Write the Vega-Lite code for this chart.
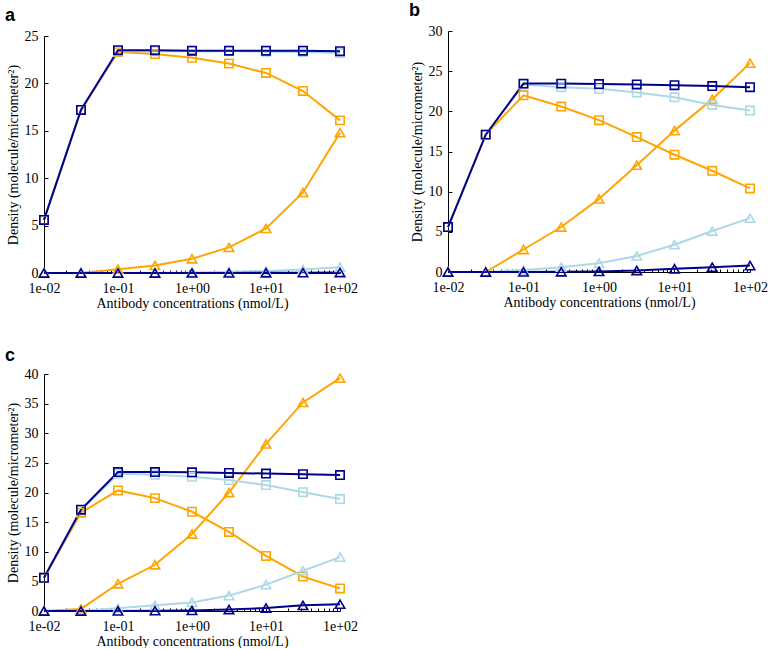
{
  "$schema": "https://vega.github.io/schema/vega-lite/v6.json",
  "background": "white",
  "padding": {"left": 5, "top": 2, "right": 5, "bottom": 0},
  "config": {
    "view": {"stroke": null},
    "axis": {
      "grid": false,
      "labelFont": "Liberation Serif",
      "labelFontSize": 14,
      "labelColor": "black",
      "titleFont": "Liberation Serif",
      "titleFontSize": 14,
      "titleFontWeight": "normal",
      "titleColor": "black",
      "domainColor": "black",
      "tickColor": "black",
      "domainWidth": 1,
      "tickWidth": 1
    },
    "title": {
      "font": "Liberation Sans",
      "fontSize": 18,
      "fontWeight": "bold",
      "color": "black",
      "anchor": "start",
      "frame": "group",
      "baseline": "alphabetic",
      "dx": -39
    }
  },
  "datasets": {
    "d": [
      {"panel": "a", "grp": "G1", "kind": "K1", "conc": 0.01, "y": 5.6},
      {"panel": "a", "grp": "G1", "kind": "K1", "conc": 0.0316, "y": 17.2},
      {"panel": "a", "grp": "G1", "kind": "K1", "conc": 0.1, "y": 23.3},
      {"panel": "a", "grp": "G1", "kind": "K1", "conc": 0.316, "y": 23.1},
      {"panel": "a", "grp": "G1", "kind": "K1", "conc": 1, "y": 22.7},
      {"panel": "a", "grp": "G1", "kind": "K1", "conc": 3.16, "y": 22.1},
      {"panel": "a", "grp": "G1", "kind": "K1", "conc": 10, "y": 21.1},
      {"panel": "a", "grp": "G1", "kind": "K1", "conc": 31.6, "y": 19.2},
      {"panel": "a", "grp": "G1", "kind": "K1", "conc": 100, "y": 16.1},
      {"panel": "a", "grp": "G1", "kind": "K2", "conc": 0.01, "y": 0},
      {"panel": "a", "grp": "G1", "kind": "K2", "conc": 0.0316, "y": 0},
      {"panel": "a", "grp": "G1", "kind": "K2", "conc": 0.1, "y": 0.4},
      {"panel": "a", "grp": "G1", "kind": "K2", "conc": 0.316, "y": 0.8},
      {"panel": "a", "grp": "G1", "kind": "K2", "conc": 1, "y": 1.5},
      {"panel": "a", "grp": "G1", "kind": "K2", "conc": 3.16, "y": 2.7},
      {"panel": "a", "grp": "G1", "kind": "K2", "conc": 10, "y": 4.7},
      {"panel": "a", "grp": "G1", "kind": "K2", "conc": 31.6, "y": 8.5},
      {"panel": "a", "grp": "G1", "kind": "K2", "conc": 100, "y": 14.8},
      {"panel": "a", "grp": "G2", "kind": "K1", "conc": 0.01, "y": 5.6},
      {"panel": "a", "grp": "G2", "kind": "K1", "conc": 0.0316, "y": 17.2},
      {"panel": "a", "grp": "G2", "kind": "K1", "conc": 0.1, "y": 23.4},
      {"panel": "a", "grp": "G2", "kind": "K1", "conc": 0.316, "y": 23.4},
      {"panel": "a", "grp": "G2", "kind": "K1", "conc": 1, "y": 23.4},
      {"panel": "a", "grp": "G2", "kind": "K1", "conc": 3.16, "y": 23.4},
      {"panel": "a", "grp": "G2", "kind": "K1", "conc": 10, "y": 23.35},
      {"panel": "a", "grp": "G2", "kind": "K1", "conc": 31.6, "y": 23.3},
      {"panel": "a", "grp": "G2", "kind": "K1", "conc": 100, "y": 23.2},
      {"panel": "a", "grp": "G2", "kind": "K2", "conc": 0.01, "y": 0},
      {"panel": "a", "grp": "G2", "kind": "K2", "conc": 0.0316, "y": 0},
      {"panel": "a", "grp": "G2", "kind": "K2", "conc": 0.1, "y": 0.01},
      {"panel": "a", "grp": "G2", "kind": "K2", "conc": 0.316, "y": 0.03},
      {"panel": "a", "grp": "G2", "kind": "K2", "conc": 1, "y": 0.06},
      {"panel": "a", "grp": "G2", "kind": "K2", "conc": 3.16, "y": 0.12},
      {"panel": "a", "grp": "G2", "kind": "K2", "conc": 10, "y": 0.22},
      {"panel": "a", "grp": "G2", "kind": "K2", "conc": 31.6, "y": 0.38},
      {"panel": "a", "grp": "G2", "kind": "K2", "conc": 100, "y": 0.6},
      {"panel": "a", "grp": "G3", "kind": "K1", "conc": 0.01, "y": 5.6},
      {"panel": "a", "grp": "G3", "kind": "K1", "conc": 0.0316, "y": 17.2},
      {"panel": "a", "grp": "G3", "kind": "K1", "conc": 0.1, "y": 23.5},
      {"panel": "a", "grp": "G3", "kind": "K1", "conc": 0.316, "y": 23.5},
      {"panel": "a", "grp": "G3", "kind": "K1", "conc": 1, "y": 23.45},
      {"panel": "a", "grp": "G3", "kind": "K1", "conc": 3.16, "y": 23.45},
      {"panel": "a", "grp": "G3", "kind": "K1", "conc": 10, "y": 23.45},
      {"panel": "a", "grp": "G3", "kind": "K1", "conc": 31.6, "y": 23.45},
      {"panel": "a", "grp": "G3", "kind": "K1", "conc": 100, "y": 23.4},
      {"panel": "a", "grp": "G3", "kind": "K2", "conc": 0.01, "y": 0},
      {"panel": "a", "grp": "G3", "kind": "K2", "conc": 0.0316, "y": 0},
      {"panel": "a", "grp": "G3", "kind": "K2", "conc": 0.1, "y": 0},
      {"panel": "a", "grp": "G3", "kind": "K2", "conc": 0.316, "y": 0},
      {"panel": "a", "grp": "G3", "kind": "K2", "conc": 1, "y": 0.005},
      {"panel": "a", "grp": "G3", "kind": "K2", "conc": 3.16, "y": 0.01},
      {"panel": "a", "grp": "G3", "kind": "K2", "conc": 10, "y": 0.02},
      {"panel": "a", "grp": "G3", "kind": "K2", "conc": 31.6, "y": 0.03},
      {"panel": "a", "grp": "G3", "kind": "K2", "conc": 100, "y": 0.05},

      {"panel": "b", "grp": "G1", "kind": "K1", "conc": 0.01, "y": 5.6},
      {"panel": "b", "grp": "G1", "kind": "K1", "conc": 0.0316, "y": 17.1},
      {"panel": "b", "grp": "G1", "kind": "K1", "conc": 0.1, "y": 22.0},
      {"panel": "b", "grp": "G1", "kind": "K1", "conc": 0.316, "y": 20.6},
      {"panel": "b", "grp": "G1", "kind": "K1", "conc": 1, "y": 18.9},
      {"panel": "b", "grp": "G1", "kind": "K1", "conc": 3.16, "y": 16.8},
      {"panel": "b", "grp": "G1", "kind": "K1", "conc": 10, "y": 14.6},
      {"panel": "b", "grp": "G1", "kind": "K1", "conc": 31.6, "y": 12.6},
      {"panel": "b", "grp": "G1", "kind": "K1", "conc": 100, "y": 10.4},
      {"panel": "b", "grp": "G1", "kind": "K2", "conc": 0.01, "y": 0},
      {"panel": "b", "grp": "G1", "kind": "K2", "conc": 0.0316, "y": 0},
      {"panel": "b", "grp": "G1", "kind": "K2", "conc": 0.1, "y": 2.8},
      {"panel": "b", "grp": "G1", "kind": "K2", "conc": 0.316, "y": 5.6},
      {"panel": "b", "grp": "G1", "kind": "K2", "conc": 1, "y": 9.1},
      {"panel": "b", "grp": "G1", "kind": "K2", "conc": 3.16, "y": 13.3},
      {"panel": "b", "grp": "G1", "kind": "K2", "conc": 10, "y": 17.6},
      {"panel": "b", "grp": "G1", "kind": "K2", "conc": 31.6, "y": 21.5},
      {"panel": "b", "grp": "G1", "kind": "K2", "conc": 100, "y": 26.0},
      {"panel": "b", "grp": "G2", "kind": "K1", "conc": 0.01, "y": 5.6},
      {"panel": "b", "grp": "G2", "kind": "K1", "conc": 0.0316, "y": 17.1},
      {"panel": "b", "grp": "G2", "kind": "K1", "conc": 0.1, "y": 23.35},
      {"panel": "b", "grp": "G2", "kind": "K1", "conc": 0.316, "y": 23.0},
      {"panel": "b", "grp": "G2", "kind": "K1", "conc": 1, "y": 22.8},
      {"panel": "b", "grp": "G2", "kind": "K1", "conc": 3.16, "y": 22.35},
      {"panel": "b", "grp": "G2", "kind": "K1", "conc": 10, "y": 21.75},
      {"panel": "b", "grp": "G2", "kind": "K1", "conc": 31.6, "y": 20.8},
      {"panel": "b", "grp": "G2", "kind": "K1", "conc": 100, "y": 20.1},
      {"panel": "b", "grp": "G2", "kind": "K2", "conc": 0.01, "y": 0},
      {"panel": "b", "grp": "G2", "kind": "K2", "conc": 0.0316, "y": 0},
      {"panel": "b", "grp": "G2", "kind": "K2", "conc": 0.1, "y": 0.25},
      {"panel": "b", "grp": "G2", "kind": "K2", "conc": 0.316, "y": 0.6},
      {"panel": "b", "grp": "G2", "kind": "K2", "conc": 1, "y": 1.1},
      {"panel": "b", "grp": "G2", "kind": "K2", "conc": 3.16, "y": 2.0},
      {"panel": "b", "grp": "G2", "kind": "K2", "conc": 10, "y": 3.4},
      {"panel": "b", "grp": "G2", "kind": "K2", "conc": 31.6, "y": 5.1},
      {"panel": "b", "grp": "G2", "kind": "K2", "conc": 100, "y": 6.7},
      {"panel": "b", "grp": "G3", "kind": "K1", "conc": 0.01, "y": 5.6},
      {"panel": "b", "grp": "G3", "kind": "K1", "conc": 0.0316, "y": 17.1},
      {"panel": "b", "grp": "G3", "kind": "K1", "conc": 0.1, "y": 23.45},
      {"panel": "b", "grp": "G3", "kind": "K1", "conc": 0.316, "y": 23.45},
      {"panel": "b", "grp": "G3", "kind": "K1", "conc": 1, "y": 23.4},
      {"panel": "b", "grp": "G3", "kind": "K1", "conc": 3.16, "y": 23.35},
      {"panel": "b", "grp": "G3", "kind": "K1", "conc": 10, "y": 23.25},
      {"panel": "b", "grp": "G3", "kind": "K1", "conc": 31.6, "y": 23.15},
      {"panel": "b", "grp": "G3", "kind": "K1", "conc": 100, "y": 23.0},
      {"panel": "b", "grp": "G3", "kind": "K2", "conc": 0.01, "y": 0},
      {"panel": "b", "grp": "G3", "kind": "K2", "conc": 0.0316, "y": 0},
      {"panel": "b", "grp": "G3", "kind": "K2", "conc": 0.1, "y": 0.01},
      {"panel": "b", "grp": "G3", "kind": "K2", "conc": 0.316, "y": 0.03},
      {"panel": "b", "grp": "G3", "kind": "K2", "conc": 1, "y": 0.07},
      {"panel": "b", "grp": "G3", "kind": "K2", "conc": 3.16, "y": 0.18},
      {"panel": "b", "grp": "G3", "kind": "K2", "conc": 10, "y": 0.4},
      {"panel": "b", "grp": "G3", "kind": "K2", "conc": 31.6, "y": 0.6},
      {"panel": "b", "grp": "G3", "kind": "K2", "conc": 100, "y": 0.8},

      {"panel": "c", "grp": "G1", "kind": "K1", "conc": 0.01, "y": 5.6},
      {"panel": "c", "grp": "G1", "kind": "K1", "conc": 0.0316, "y": 16.6},
      {"panel": "c", "grp": "G1", "kind": "K1", "conc": 0.1, "y": 20.35},
      {"panel": "c", "grp": "G1", "kind": "K1", "conc": 0.316, "y": 19.05},
      {"panel": "c", "grp": "G1", "kind": "K1", "conc": 1, "y": 16.75},
      {"panel": "c", "grp": "G1", "kind": "K1", "conc": 3.16, "y": 13.35},
      {"panel": "c", "grp": "G1", "kind": "K1", "conc": 10, "y": 9.3},
      {"panel": "c", "grp": "G1", "kind": "K1", "conc": 31.6, "y": 5.8},
      {"panel": "c", "grp": "G1", "kind": "K1", "conc": 100, "y": 3.8},
      {"panel": "c", "grp": "G1", "kind": "K2", "conc": 0.01, "y": 0},
      {"panel": "c", "grp": "G1", "kind": "K2", "conc": 0.0316, "y": 0.35},
      {"panel": "c", "grp": "G1", "kind": "K2", "conc": 0.1, "y": 4.6},
      {"panel": "c", "grp": "G1", "kind": "K2", "conc": 0.316, "y": 7.8},
      {"panel": "c", "grp": "G1", "kind": "K2", "conc": 1, "y": 13.0},
      {"panel": "c", "grp": "G1", "kind": "K2", "conc": 3.16, "y": 20.0},
      {"panel": "c", "grp": "G1", "kind": "K2", "conc": 10, "y": 28.2},
      {"panel": "c", "grp": "G1", "kind": "K2", "conc": 31.6, "y": 35.2},
      {"panel": "c", "grp": "G1", "kind": "K2", "conc": 100, "y": 39.3},
      {"panel": "c", "grp": "G2", "kind": "K1", "conc": 0.01, "y": 5.6},
      {"panel": "c", "grp": "G2", "kind": "K1", "conc": 0.0316, "y": 17.0},
      {"panel": "c", "grp": "G2", "kind": "K1", "conc": 0.1, "y": 23.15},
      {"panel": "c", "grp": "G2", "kind": "K1", "conc": 0.316, "y": 23.0},
      {"panel": "c", "grp": "G2", "kind": "K1", "conc": 1, "y": 22.65},
      {"panel": "c", "grp": "G2", "kind": "K1", "conc": 3.16, "y": 22.1},
      {"panel": "c", "grp": "G2", "kind": "K1", "conc": 10, "y": 21.25},
      {"panel": "c", "grp": "G2", "kind": "K1", "conc": 31.6, "y": 20.05},
      {"panel": "c", "grp": "G2", "kind": "K1", "conc": 100, "y": 18.9},
      {"panel": "c", "grp": "G2", "kind": "K2", "conc": 0.01, "y": 0},
      {"panel": "c", "grp": "G2", "kind": "K2", "conc": 0.0316, "y": 0.05},
      {"panel": "c", "grp": "G2", "kind": "K2", "conc": 0.1, "y": 0.45},
      {"panel": "c", "grp": "G2", "kind": "K2", "conc": 0.316, "y": 0.95},
      {"panel": "c", "grp": "G2", "kind": "K2", "conc": 1, "y": 1.45},
      {"panel": "c", "grp": "G2", "kind": "K2", "conc": 3.16, "y": 2.6},
      {"panel": "c", "grp": "G2", "kind": "K2", "conc": 10, "y": 4.45},
      {"panel": "c", "grp": "G2", "kind": "K2", "conc": 31.6, "y": 6.8},
      {"panel": "c", "grp": "G2", "kind": "K2", "conc": 100, "y": 9.1},
      {"panel": "c", "grp": "G3", "kind": "K1", "conc": 0.01, "y": 5.6},
      {"panel": "c", "grp": "G3", "kind": "K1", "conc": 0.0316, "y": 17.1},
      {"panel": "c", "grp": "G3", "kind": "K1", "conc": 0.1, "y": 23.45},
      {"panel": "c", "grp": "G3", "kind": "K1", "conc": 0.316, "y": 23.45},
      {"panel": "c", "grp": "G3", "kind": "K1", "conc": 1, "y": 23.4},
      {"panel": "c", "grp": "G3", "kind": "K1", "conc": 3.16, "y": 23.3},
      {"panel": "c", "grp": "G3", "kind": "K1", "conc": 10, "y": 23.2},
      {"panel": "c", "grp": "G3", "kind": "K1", "conc": 31.6, "y": 23.1},
      {"panel": "c", "grp": "G3", "kind": "K1", "conc": 100, "y": 22.95},
      {"panel": "c", "grp": "G3", "kind": "K2", "conc": 0.01, "y": 0},
      {"panel": "c", "grp": "G3", "kind": "K2", "conc": 0.0316, "y": 0},
      {"panel": "c", "grp": "G3", "kind": "K2", "conc": 0.1, "y": 0.02},
      {"panel": "c", "grp": "G3", "kind": "K2", "conc": 0.316, "y": 0.05},
      {"panel": "c", "grp": "G3", "kind": "K2", "conc": 1, "y": 0.1},
      {"panel": "c", "grp": "G3", "kind": "K2", "conc": 3.16, "y": 0.25},
      {"panel": "c", "grp": "G3", "kind": "K2", "conc": 10, "y": 0.5},
      {"panel": "c", "grp": "G3", "kind": "K2", "conc": 31.6, "y": 0.95},
      {"panel": "c", "grp": "G3", "kind": "K2", "conc": 100, "y": 1.15}
    ]
  },
  "vconcat": [
    {
      "hconcat": [
        {
          "title": {"text": "a", "offset": 4},
          "width": 296,
          "height": 242,
          "data": {"name": "d"},
          "transform": [{"filter": "datum.panel === 'a'"}],
          "encoding": {
            "x": {
              "field": "conc", "type": "quantitative",
              "scale": {"type": "log", "domain": [0.01, 100], "nice": false},
              "axis": {
                "title": "Antibody concentrations (nmol/L)",
                "values": [0.01,0.02,0.03,0.04,0.05,0.06,0.07,0.08,0.09,0.1,0.2,0.3,0.4,0.5,0.6,0.7,0.8,0.9,1,2,3,4,5,6,7,8,9,10,20,30,40,50,60,70,80,90,100],
                "labelExpr": "datum.value == 0.01 ? '1e-02' : datum.value == 0.1 ? '1e-01' : datum.value == 1 ? '1e+00' : datum.value == 10 ? '1e+01' : datum.value == 100 ? '1e+02' : ''",
                "labelOverlap": false,
                "labelFlush": false,
                "tickSize": -3,
                "labelPadding": 11,
                "titlePadding": 1
              }
            },
            "y": {
              "field": "y", "type": "quantitative",
              "scale": {"domain": [0, 25], "range": [242, 5], "nice": false, "zero": false},
              "axis": {
                "title": "Density (molecule/micrometer²)",
                "values": [0, 5, 10, 15, 20, 25],
                "tickSize": -4,
                "labelPadding": 10,
                "titlePadding": 4
              }
            },
            "color": {
              "field": "grp", "type": "nominal",
              "scale": {"domain": ["G1", "G2", "G3"], "range": ["#FFA500", "#ADD8E6", "#00008B"]},
              "legend": null
            },
            "detail": {"field": "kind"}
          },
          "layer": [
            {"mark": {"type": "line", "strokeWidth": 2}},
            {
              "mark": {"type": "point", "filled": false, "strokeWidth": 1.6, "opacity": 1},
              "encoding": {
                "shape": {"field": "kind", "type": "nominal", "scale": {"domain": ["K1", "K2"], "range": ["square", "triangle-up"]}, "legend": null},
                "size": {"field": "kind", "type": "nominal", "scale": {"domain": ["K1", "K2"], "range": [70, 90]}, "legend": null}
              }
            }
          ]
        },
        {
          "title": {"text": "b", "offset": 4},
          "width": 302,
          "height": 241,
          "data": {"name": "d"},
          "transform": [{"filter": "datum.panel === 'b'"}],
          "encoding": {
            "x": {
              "field": "conc", "type": "quantitative",
              "scale": {"type": "log", "domain": [0.01, 100], "nice": false},
              "axis": {
                "title": "Antibody concentrations (nmol/L)",
                "values": [0.01,0.02,0.03,0.04,0.05,0.06,0.07,0.08,0.09,0.1,0.2,0.3,0.4,0.5,0.6,0.7,0.8,0.9,1,2,3,4,5,6,7,8,9,10,20,30,40,50,60,70,80,90,100],
                "labelExpr": "datum.value == 0.01 ? '1e-02' : datum.value == 0.1 ? '1e-01' : datum.value == 1 ? '1e+00' : datum.value == 10 ? '1e+01' : datum.value == 100 ? '1e+02' : ''",
                "labelOverlap": false,
                "labelFlush": false,
                "tickSize": -3,
                "labelPadding": 11,
                "titlePadding": 1
              }
            },
            "y": {
              "field": "y", "type": "quantitative",
              "scale": {"domain": [0, 30], "nice": false, "zero": false},
              "axis": {
                "title": "Density (molecule/micrometer²)",
                "values": [0, 5, 10, 15, 20, 25, 30],
                "tickSize": -4,
                "labelPadding": 10,
                "titlePadding": 4
              }
            },
            "color": {
              "field": "grp", "type": "nominal",
              "scale": {"domain": ["G1", "G2", "G3"], "range": ["#FFA500", "#ADD8E6", "#00008B"]},
              "legend": null
            },
            "detail": {"field": "kind"}
          },
          "layer": [
            {"mark": {"type": "line", "strokeWidth": 2}},
            {
              "mark": {"type": "point", "filled": false, "strokeWidth": 1.6, "opacity": 1},
              "encoding": {
                "shape": {"field": "kind", "type": "nominal", "scale": {"domain": ["K1", "K2"], "range": ["square", "triangle-up"]}, "legend": null},
                "size": {"field": "kind", "type": "nominal", "scale": {"domain": ["K1", "K2"], "range": [70, 90]}, "legend": null}
              }
            }
          ]
        }
      ],
      "bounds": "flush",
      "spacing": 108,
      "resolve": {"scale": {"x": "independent", "y": "independent"}}
    },
    {
      "title": {"text": "c", "offset": 2},
      "width": 296,
      "height": 237,
      "data": {"name": "d"},
      "transform": [{"filter": "datum.panel === 'c'"}],
      "encoding": {
        "x": {
          "field": "conc", "type": "quantitative",
          "scale": {"type": "log", "domain": [0.01, 100], "nice": false},
          "axis": {
            "title": "Antibody concentrations (nmol/L)",
            "values": [0.01,0.02,0.03,0.04,0.05,0.06,0.07,0.08,0.09,0.1,0.2,0.3,0.4,0.5,0.6,0.7,0.8,0.9,1,2,3,4,5,6,7,8,9,10,20,30,40,50,60,70,80,90,100],
            "labelExpr": "datum.value == 0.01 ? '1e-02' : datum.value == 0.1 ? '1e-01' : datum.value == 1 ? '1e+00' : datum.value == 10 ? '1e+01' : datum.value == 100 ? '1e+02' : ''",
            "labelOverlap": false,
            "labelFlush": false,
            "tickSize": -3,
            "labelPadding": 11,
            "titlePadding": 1
          }
        },
        "y": {
          "field": "y", "type": "quantitative",
          "scale": {"domain": [0, 40], "nice": false, "zero": false},
          "axis": {
            "title": "Density (molecule/micrometer²)",
            "values": [0, 5, 10, 15, 20, 25, 30, 35, 40],
            "tickSize": -4,
            "labelPadding": 10,
            "titlePadding": 4
          }
        },
        "color": {
          "field": "grp", "type": "nominal",
          "scale": {"domain": ["G1", "G2", "G3"], "range": ["#FFA500", "#ADD8E6", "#00008B"]},
          "legend": null
        },
        "detail": {"field": "kind"}
      },
      "layer": [
        {"mark": {"type": "line", "strokeWidth": 2}},
        {
          "mark": {"type": "point", "filled": false, "strokeWidth": 1.6, "opacity": 1},
          "encoding": {
            "shape": {"field": "kind", "type": "nominal", "scale": {"domain": ["K1", "K2"], "range": ["square", "triangle-up"]}, "legend": null},
            "size": {"field": "kind", "type": "nominal", "scale": {"domain": ["K1", "K2"], "range": [70, 90]}, "legend": null}
          }
        }
      ]
    }
  ],
  "spacing": 37,
  "resolve": {"scale": {"x": "independent", "y": "independent"}}
}
